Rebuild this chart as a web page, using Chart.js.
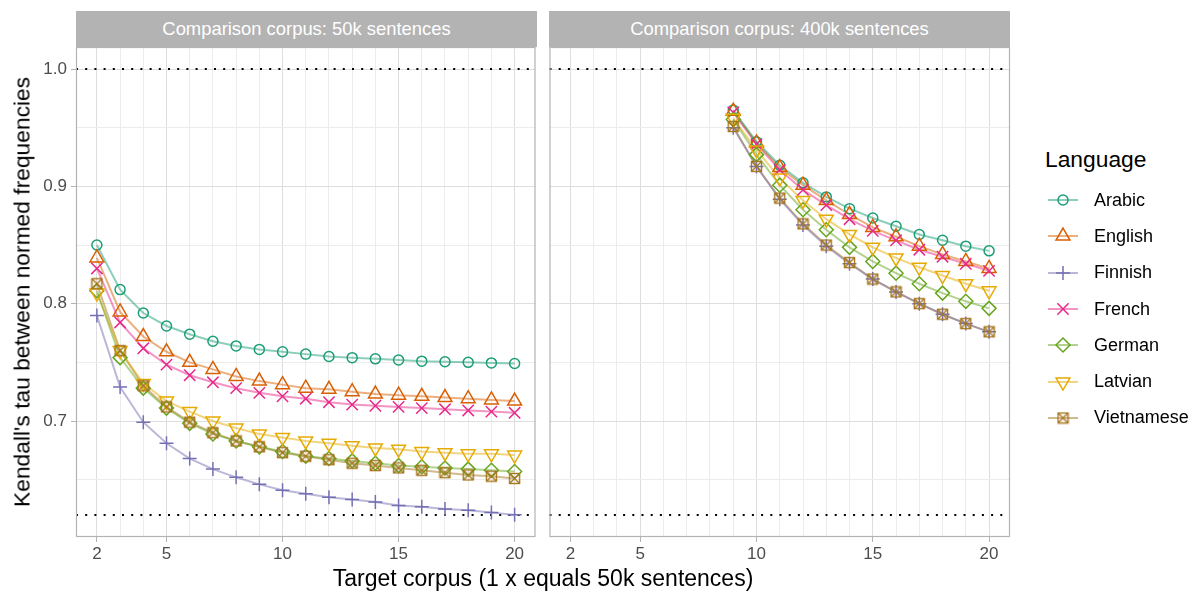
<!DOCTYPE html>
<html>
<head>
<meta charset="utf-8">
<script src="https://cdn.jsdelivr.net/npm/chart.js"></script>
<style>
  body { margin: 0; background: #fff; font-family: 'Liberation Sans', Arial, sans-serif; }
  #wrap { position: relative; width: 1198px; height: 594px; overflow: hidden; }
  canvas { position: absolute; top: 0; }
  .strip { position: absolute; top: 11px; height: 36px; width: 461px; background: #b3b3b3;
           color: #fff; font-size: 18.4px; line-height: 36px; text-align: center; }
  #xtitle { position: absolute; left: 76px; width: 934px; top: 565px; text-align: center;
            font-size: 23px; color: #000; }
  #ytitle { position: absolute; left: 22px; top: 292px; transform: translate(-50%, -50%) rotate(-90deg);
            white-space: nowrap; font-size: 22.8px; color: #000; }
  #legend { position: absolute; left: 1045px; top: 146px; }
  #legend .ttl { font-size: 22.8px; color: #000; height: 36px; }
  #legend .row { height: 36.3px; display: flex; align-items: center; font-size: 18px; color: #000; margin-left: 2px; }
  #legend canvas { position: static; margin-right: 15px; }
</style>
</head>
<body>
<div id="wrap">
  <canvas id="left" width="545" height="594" style="left:0"></canvas>
  <canvas id="right" width="480" height="594" style="left:540px"></canvas>
  <div class="strip" style="left:76px">Comparison corpus: 50k sentences</div>
  <div class="strip" style="left:549px">Comparison corpus: 400k sentences</div>
  <div id="ytitle">Kendall's tau between normed frequencies</div>
  <div id="xtitle">Target corpus (1 x equals 50k sentences)</div>
  <div id="legend"><div class="ttl">Language</div></div>
</div>
<script>
// target corpus sizes
const xSmall = [2,3,4,5,6,7,8,9,10,11,12,13,14,15,16,17,18,19,20];
const xLarge = [9,10,11,12,13,14,15,16,17,18,19,20];

// comparison corpus 50k
const arabic50k     = [0.850,0.812,0.792,0.781,0.774,0.768,0.764,0.761,0.759,0.757,0.755,0.754,0.753,0.752,0.751,0.7505,0.750,0.7495,0.749];
const english50k    = [0.839,0.793,0.772,0.759,0.750,0.744,0.738,0.734,0.731,0.728,0.727,0.725,0.723,0.722,0.721,0.720,0.719,0.718,0.717];
const finnish50k    = [0.790,0.729,0.699,0.681,0.668,0.659,0.652,0.646,0.641,0.638,0.635,0.633,0.631,0.628,0.627,0.625,0.624,0.622,0.620];
const french50k     = [0.830,0.784,0.762,0.748,0.739,0.733,0.728,0.724,0.721,0.719,0.716,0.714,0.713,0.712,0.711,0.710,0.709,0.708,0.707];
const german50k     = [0.811,0.754,0.728,0.711,0.698,0.689,0.683,0.678,0.674,0.670,0.668,0.666,0.664,0.662,0.661,0.660,0.659,0.658,0.657];
const latvian50k    = [0.809,0.760,0.732,0.717,0.708,0.700,0.694,0.689,0.686,0.683,0.681,0.679,0.677,0.676,0.674,0.673,0.672,0.672,0.671];
const vietnamese50k = [0.817,0.760,0.730,0.712,0.699,0.690,0.683,0.678,0.673,0.670,0.667,0.664,0.662,0.660,0.658,0.656,0.654,0.653,0.651];

// comparison corpus 400k
const arabic400k     = [0.965,0.938,0.918,0.903,0.891,0.881,0.873,0.866,0.859,0.854,0.849,0.845];
const english400k    = [0.964,0.937,0.916,0.901,0.888,0.876,0.865,0.857,0.849,0.842,0.836,0.830];
const finnish400k    = [0.950,0.917,0.889,0.867,0.849,0.834,0.821,0.810,0.800,0.791,0.783,0.776];
const french400k     = [0.963,0.936,0.914,0.897,0.884,0.872,0.862,0.854,0.846,0.840,0.834,0.828];
const german400k     = [0.957,0.927,0.901,0.880,0.863,0.848,0.836,0.826,0.817,0.809,0.802,0.796];
const latvian400k    = [0.958,0.931,0.907,0.888,0.872,0.859,0.848,0.839,0.831,0.824,0.817,0.811];
const vietnamese400k = [0.951,0.917,0.890,0.868,0.850,0.835,0.821,0.810,0.800,0.791,0.783,0.776];

const languages = ['Arabic','English','Finnish','French','German','Latvian','Vietnamese'];
const colors = ['#1B9E77','#D95F02','#7570B3','#E7298A','#66A61E','#E6AB02','#A6761D'];

// axis breaks
const xGrid = [2,3,4,5,6,7,8,9,10,11,12,13,14,15,16,17,18,19,20];
const xLabels = [2,5,10,15,20];
const yGrid = [0.65,0.7,0.75,0.8,0.85,0.9,0.95,1.0];
const yLabels = [0.7,0.8,0.9,1.0];
const refLines = [1.0, 0.6198];

// square with a cross for Vietnamese
function squareCross(col) {
  const c = document.createElement('canvas');
  c.width = 13; c.height = 13;
  const g = c.getContext('2d');
  g.strokeStyle = col; g.lineWidth = 1.4;
  g.strokeRect(1.5, 1.5, 10, 10);
  g.beginPath();
  g.moveTo(1.5, 1.5); g.lineTo(11.5, 11.5);
  g.moveTo(11.5, 1.5); g.lineTo(1.5, 11.5);
  g.stroke();
  return c;
}

const shapes = [
  { pointStyle: 'circle', radius: 5, rotation: 0 },
  { pointStyle: 'triangle', radius: 8, rotation: 0 },
  { pointStyle: 'cross', radius: 7, rotation: 0 },
  { pointStyle: 'crossRot', radius: 8, rotation: 0 },
  { pointStyle: 'rectRot', radius: 7, rotation: 0 },
  { pointStyle: 'triangle', radius: 8, rotation: 180 },
  { pointStyle: squareCross(colors[6]), radius: 6, rotation: 0 }
];

function fade(hex, a) {
  const n = parseInt(hex.slice(1), 16);
  return `rgba(${n >> 16},${(n >> 8) & 255},${n & 255},${a})`;
}

function isMajor(v, list) {
  return list.some(m => Math.abs(m - v) < 1e-6);
}

const panelDecor = {
  id: 'panelDecor',
  beforeDatasetsDraw(chart) {
    const { ctx, chartArea: a, scales } = chart;
    ctx.save();
    ctx.strokeStyle = '#000';
    ctx.lineWidth = 2;
    ctx.setLineDash([2, 7.2]);
    refLines.forEach(v => {
      const y = Math.round(scales.y.getPixelForValue(v));
      ctx.beginPath();
      ctx.moveTo(a.left, y);
      ctx.lineTo(a.right, y);
      ctx.stroke();
    });
    ctx.restore();
  },
  afterDraw(chart) {
    const { ctx, chartArea: a } = chart;
    ctx.save();
    ctx.strokeStyle = '#b3b3b3';
    ctx.lineWidth = 1.2;
    ctx.strokeRect(a.left + 0.5, a.top + 0.5, a.right - a.left - 1, a.bottom - a.top - 1);
    ctx.restore();
  }
};

function makePanel(id, xs, series, showY, padLeft, padRight) {
  const datasets = [];
  series.forEach((ys, i) => {
    const pts = xs.map((x, k) => ({ x: x, y: ys[k] }));
    datasets.push({
      data: pts, order: 100, borderColor: fade(colors[i], 0.5), borderWidth: 2,
      pointRadius: 0, fill: false, tension: 0
    });
    datasets.push({
      data: pts, order: 50 - i, showLine: false,
      borderColor: colors[i], backgroundColor: 'transparent', pointBorderWidth: 1.5,
      pointStyle: shapes[i].pointStyle, pointRadius: shapes[i].radius, pointRotation: shapes[i].rotation
    });
  });

  return new Chart(document.getElementById(id).getContext('2d'), {
    type: 'line',
    data: { datasets },
    options: {
      responsive: false,
      animation: false,
      devicePixelRatio: 1,
      layout: { padding: { top: 47, right: padRight, bottom: 0, left: padLeft } },
      plugins: { legend: { display: false }, tooltip: { enabled: false } },
      scales: {
        x: {
          type: 'linear', min: 1.1, max: 20.9,
          afterBuildTicks: s => { s.ticks = xGrid.map(v => ({ value: v })); },
          afterFit: s => { s.height = 57; },
          border: { display: false },
          grid: {
            color: c => isMajor(c.tick.value, xLabels) ? '#dedede' : '#ececec',
            lineWidth: 1,
            tickLength: 5,
            tickColor: c => isMajor(c.tick.value, xLabels) ? '#b3b3b3' : 'rgba(0,0,0,0)'
          },
          ticks: {
            autoSkip: false, maxRotation: 0, padding: 2,
            color: '#4d4d4d', font: { size: 17, family: "'Liberation Sans', Arial, sans-serif" },
            callback: v => isMajor(v, xLabels) ? String(v) : ''
          }
        },
        y: {
          type: 'linear', min: 0.60114, max: 1.01875,
          afterBuildTicks: s => { s.ticks = yGrid.map(v => ({ value: v })); },
          afterFit: s => { s.width = showY ? 76 : 0; },
          border: { display: false },
          grid: {
            color: c => isMajor(c.tick.value, yLabels) ? '#dedede' : '#ececec',
            lineWidth: 1,
            drawTicks: showY,
            tickLength: 5,
            tickColor: c => isMajor(c.tick.value, yLabels) ? '#b3b3b3' : 'rgba(0,0,0,0)'
          },
          ticks: {
            display: showY, padding: 4,
            color: '#4d4d4d', font: { size: 17, family: "'Liberation Sans', Arial, sans-serif" },
            callback: v => isMajor(v, yLabels) ? v.toFixed(1) : ''
          }
        }
      }
    },
    plugins: [panelDecor]
  });
}

makePanel('left', xSmall,
  [arabic50k, english50k, finnish50k, french50k, german50k, latvian50k, vietnamese50k], true, 0, 8);
makePanel('right', xLarge,
  [arabic400k, english400k, finnish400k, french400k, german400k, latvian400k, vietnamese400k], false, 9, 10);

// legend keys: line with the point shape on top
const legend = document.getElementById('legend');
languages.forEach((name, i) => {
  const row = document.createElement('div');
  row.className = 'row';
  const c = document.createElement('canvas');
  c.width = 32; c.height = 20;
  const g = c.getContext('2d');
  g.strokeStyle = fade(colors[i], 0.5);
  g.lineWidth = 2;
  g.beginPath(); g.moveTo(1, 10); g.lineTo(31, 10); g.stroke();
  g.strokeStyle = colors[i];
  g.fillStyle = 'rgba(0,0,0,0)';
  g.lineWidth = 1.5;
  Chart.helpers.drawPoint(g, {
    pointStyle: shapes[i].pointStyle, radius: shapes[i].radius,
    rotation: shapes[i].rotation, borderWidth: 1.5
  }, 16, 10);
  row.appendChild(c);
  const t = document.createElement('span');
  t.textContent = name;
  row.appendChild(t);
  legend.appendChild(row);
});
</script>
</body>
</html>
